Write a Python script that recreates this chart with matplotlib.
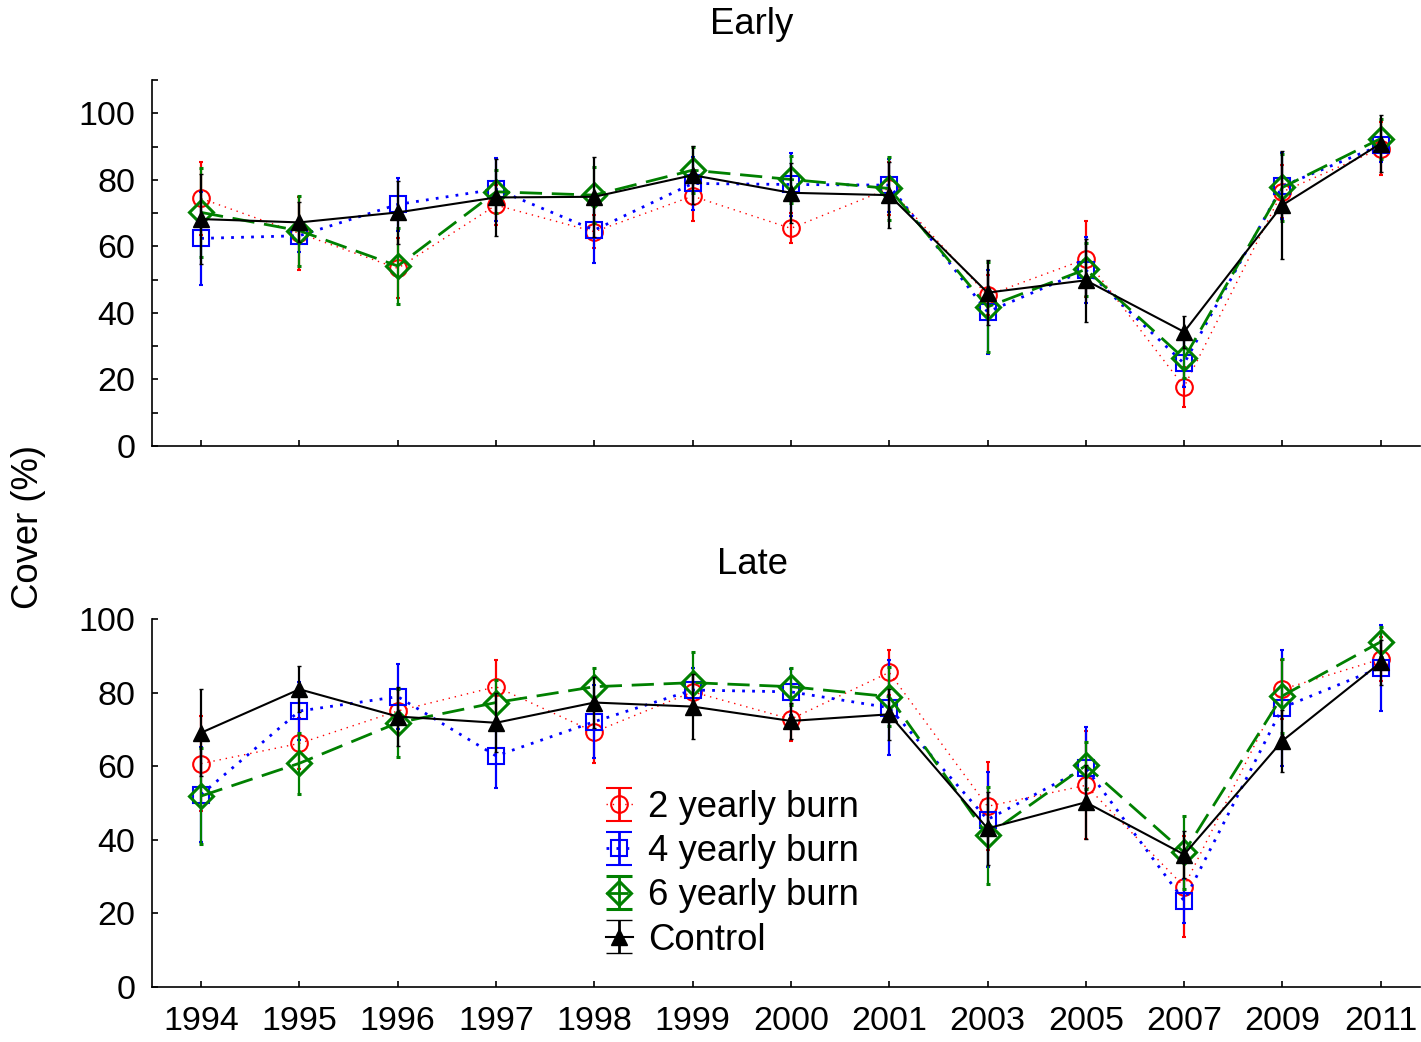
import numpy as np
import matplotlib.pyplot as plt
from matplotlib.ticker import MultipleLocator
from matplotlib.legend_handler import HandlerErrorbar

plt.rcParams['font.family'] = ['Liberation Sans', 'DejaVu Sans']

years = ['1994', '1995', '1996', '1997', '1998', '1999', '2000', '2001',
         '2003', '2005', '2007', '2009', '2011']

# Early season cover (%) and error half-widths
early_2yr = [74.4, 63.9, 53.4, 72.4, 64.4, 75.1, 65.4, 77.4, 45.3, 56.2, 17.8, 76.4, 89.4]
early_2yr_err = [11, 11, 9, 6, 5, 7.5, 4.5, 8, 6, 11.5, 6, 8, 8]
early_4yr = [62.4, 63.2, 72.6, 77.2, 64.9, 78.9, 78.6, 78.4, 40.3, 52.9, 24.8, 78.1, 90.4]
early_4yr_err = [14, 5, 8, 9.5, 10, 8, 9.5, 8, 12.5, 10, 7, 10, 5]
early_6yr = [70.2, 64.7, 54.1, 76.4, 75.4, 82.9, 80.1, 77.4, 41.8, 53.1, 26.3, 77.7, 92.4]
early_6yr_err = [13.5, 10.5, 11.5, 6.5, 8.5, 7, 7, 9.5, 13.5, 8, 6, 10, 6]
early_ctrl = [68.2, 67.2, 70.2, 74.7, 74.9, 81.4, 76.1, 75.4, 46.1, 49.8, 34.3, 72.4, 90.9]
early_ctrl_err = [13.5, 6, 9.5, 11.5, 12, 8.7, 9, 10, 9.8, 12.5, 4.7, 16.3, 8.5]

# Late season
late_2yr = [60.7, 66.2, 75.0, 81.6, 69.3, 80.2, 72.8, 85.5, 49.1, 54.8, 27.3, 80.9, 89.1]
late_2yr_err = [13, 7, 6, 7.3, 8.5, 5, 6, 6.2, 12, 14.7, 13.6, 8, 6]
late_4yr = [52.3, 75.0, 78.9, 62.8, 72.1, 80.7, 80.2, 75.9, 45.5, 59.6, 23.4, 75.9, 86.8]
late_4yr_err = [13, 8, 8.8, 8.8, 10, 6, 6.2, 12.9, 13, 11, 6, 15.8, 11.7]
late_6yr = [51.9, 60.8, 71.8, 77.3, 81.6, 82.7, 81.6, 78.9, 41.2, 60.2, 36.6, 79.1, 93.8]
late_6yr_err = [13, 8.3, 9.3, 6, 5, 8.2, 5, 8, 13.2, 6.5, 10, 10, 4]
late_ctrl = [69.1, 80.9, 73.5, 71.8, 77.3, 76.2, 72.3, 74.1, 43.1, 50.2, 36.0, 66.9, 88.2]
late_ctrl_err = [11.8, 6.2, 8, 8, 7, 8.9, 5, 7, 10, 10, 6.3, 8.4, 6]

labels = ['2 yearly burn', '4 yearly burn', '6 yearly burn', 'Control']

# style per series: color, marker, filled, line width, dash pattern, marker edge width
styles = [
    dict(color='red', marker='o', mfc='none', lw=1.0, dashes=(1, 3.5), mew=1.5),
    dict(color='blue', marker='s', mfc='none', lw=2.0, dashes=(1, 2.6), mew=1.5),
    dict(color='green', marker='D', mfc='none', lw=2.0, dashes=(8, 3.5), mew=2.2),
    dict(color='black', marker='^', mfc='black', lw=1.5, dashes=None, mew=1.0),
]

x = np.arange(len(years))
fs_tick = 24.5
fs = 26.3

fig = plt.figure(figsize=(14.21, 10.42), dpi=100)
ax1 = fig.add_axes([152 / 1421, 1 - 446 / 1042, 1268 / 1421, 366 / 1042])
ax2 = fig.add_axes([152 / 1421, 1 - 987 / 1042, 1268 / 1421, 368 / 1042])


def draw(ax, series, errs):
    conts = []
    for i, (y, e, st) in enumerate(zip(series, errs, styles)):
        c = ax.errorbar(x, y, yerr=e, color=st['color'], marker=st['marker'],
                        ms=12, mfc=st['mfc'], mec=st['color'], mew=st['mew'],
                        lw=st['lw'], elinewidth=1.6, capsize=1.5, capthick=1.5,
                        zorder=3 + i)
        if st['dashes'] is not None:
            c.lines[0].set_dashes(st['dashes'])
        conts.append(c)
    return conts


draw(ax1, [early_2yr, early_4yr, early_6yr, early_ctrl],
     [early_2yr_err, early_4yr_err, early_6yr_err, early_ctrl_err])
draw(ax2, [late_2yr, late_4yr, late_6yr, late_ctrl],
     [late_2yr_err, late_4yr_err, late_6yr_err, late_ctrl_err])

for ax in (ax1, ax2):
    ax.set_xlim(-0.5, 12.4)
    ax.set_xticks(x)
    for s in ('top', 'right'):
        ax.spines[s].set_visible(False)
    for s in ('left', 'bottom'):
        ax.spines[s].set_linewidth(1.2)
    ax.tick_params(which='both', direction='in', length=4, width=1.2,
                   labelsize=fs_tick, pad=12)

ax1.set_ylim(0, 110)
ax1.set_yticks([0, 20, 40, 60, 80, 100])
ax1.yaxis.set_minor_locator(MultipleLocator(10))
ax1.tick_params(axis='x', labelbottom=False)

ax2.set_ylim(0, 100)
ax2.set_yticks([0, 20, 40, 60, 80, 100])
ax2.set_xticklabels(years)
ax2.tick_params(axis='x', pad=14)

# legend proxies with wide caps
proxies = []
for st in styles:
    c = ax2.errorbar([np.nan], [np.nan], yerr=[np.nan], color=st['color'],
                     marker=st['marker'], ms=12, mfc=st['mfc'], mec=st['color'],
                     mew=st['mew'], lw=st['lw'], elinewidth=2.0, capsize=9.5,
                     capthick=2.0)
    if st['dashes'] is not None:
        c.lines[0].set_dashes(st['dashes'])
    proxies.append(c)

ax2.legend(proxies, labels, loc='upper left', bbox_to_anchor=(0.358, 0.535),
           frameon=False, fontsize=fs, handlelength=0.74, handletextpad=0.42,
           labelspacing=0.25, borderpad=0, borderaxespad=0,
           handler_map={type(proxies[0]): HandlerErrorbar(yerr_size=0.45)})

fig.text(752 / 1421, 1 - 25 / 1042, 'Early', fontsize=fs, ha='center', va='center')
fig.text(752 / 1421, 1 - 565 / 1042, 'Late', fontsize=fs, ha='center', va='center')
fig.text(28 / 1421, 1 - 527 / 1042, 'Cover (%)', fontsize=fs, rotation=90,
         ha='center', va='center')

fig.savefig('out.png', dpi=100)
